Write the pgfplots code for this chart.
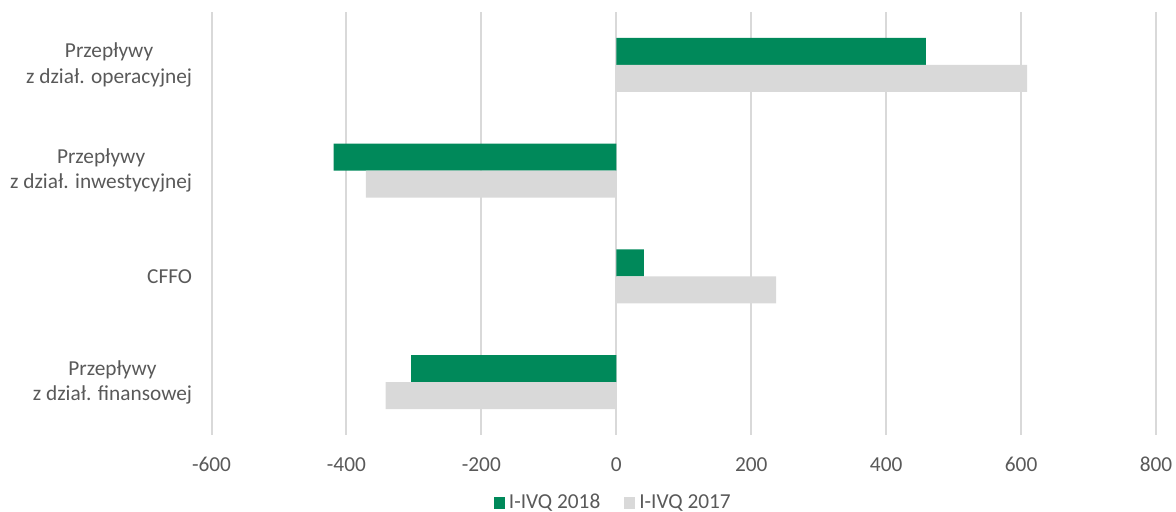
\documentclass[border=0pt]{standalone}
\usepackage{fontspec}
\setmainfont{Carlito}
\usepackage{pgfplots}
\pgfplotsset{compat=1.18}
\definecolor{barGreen}{RGB}{0,137,90}
\definecolor{barGray}{RGB}{217,217,217}
\definecolor{txt}{RGB}{89,89,89}
\definecolor{gridc}{RGB}{217,217,217}
\begin{document}
\begin{tikzpicture}
\useasboundingbox (0,0) rectangle (588bp,256bp);
\begin{axis}[
  at={(105.75bp,38.5bp)}, anchor=south west,
  scale only axis, width=472.25bp, height=211.5bp,
  xbar, bar width=13.5bp,
  xmin=-600, xmax=800,
  ymin=-0.5, ymax=3.5, y dir=reverse,
  ytick={0,1,2,3},
  yticklabels={{Przepływy\\z dział. operacyjnej},{Przepływy\\z dział. inwestycyjnej},CFFO,{Przepływy\\z dział. finansowej}},
  xtick={-600,-400,-200,0,200,400,600,800},
  xticklabels={-600,-400,-200,0,200,400,600,800},
  axis line style={draw=none},
  major tick length=0pt,
  xmajorgrids, ymajorgrids=false,
  grid style={draw=gridc, line width=1bp},
  yticklabel style={font=\fontsize{10.7}{12.6}\selectfont, text=txt, align=center, inner sep=0pt, xshift=-9.5bp},
  xticklabel style={font=\fontsize{10.7}{12.6}\selectfont, text=txt, inner sep=0pt, yshift=-11bp},
  legend style={at={(0.4265,-0.16)}, anchor=center, draw=none, fill=none,
    font=\fontsize{10.7}{12.6}\selectfont, text=txt, legend columns=2,
    /tikz/every even column/.append style={column sep=10bp}},
  legend cell align=left,
  legend image code/.code={\fill[#1] (0bp,-3bp) rectangle (5.5bp,3bp);},
]
\addplot[fill=barGreen, draw=none, bar shift=6.75bp] coordinates {(459,0) (-419,1) (41,2) (-304,3)};
\addplot[fill=barGray, draw=none, bar shift=-6.75bp] coordinates {(609,0) (-371,1) (237,2) (-342,3)};
\legend{I-IVQ 2018, I-IVQ 2017}
\end{axis}
\end{tikzpicture}
\end{document}
